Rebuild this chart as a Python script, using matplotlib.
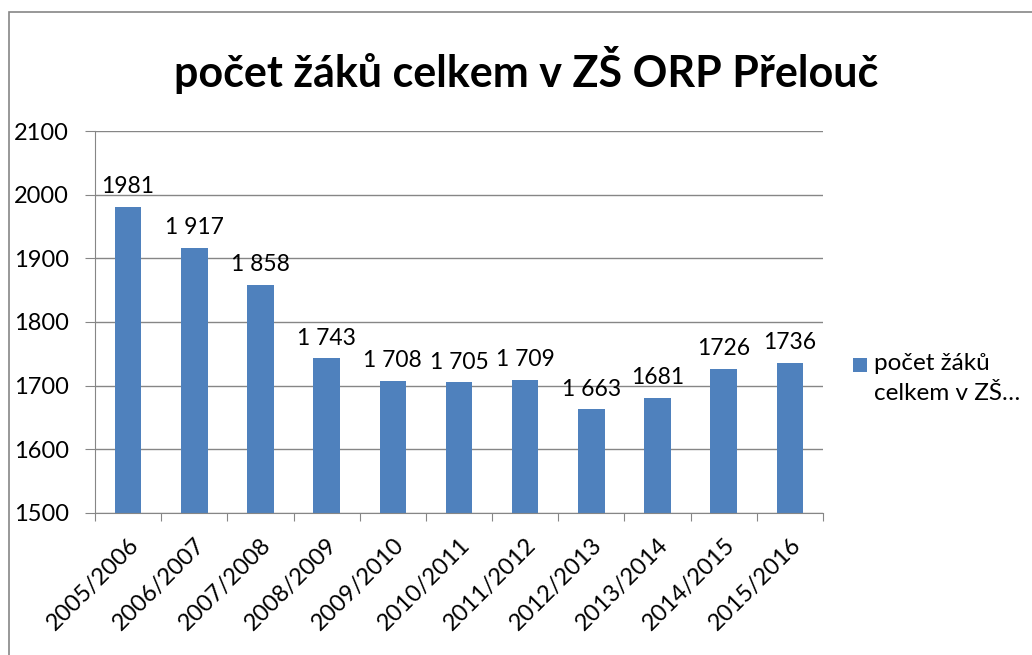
import matplotlib.pyplot as plt
from matplotlib.patches import Rectangle

plt.rcParams["font.family"] = ["Lato", "DejaVu Sans"]

years = ["2005/2006", "2006/2007", "2007/2008", "2008/2009", "2009/2010", "2010/2011",
         "2011/2012", "2012/2013", "2013/2014", "2014/2015", "2015/2016"]
pupils = [1981, 1917, 1858, 1743, 1708, 1705, 1709, 1663, 1681, 1726, 1736]
# some of the labels are written with a thousands separator, some are not
grouped = [False, True, True, True, True, True, True, True, False, False, False]

title = "počet žáků celkem v ZŠ ORP Přelouč"
series_lines = ["počet žáků", "celkem v ZŠ…"]

blue = "#4F81BD"
grey = "#868686"
W, H = 1032, 655

fig = plt.figure(figsize=(W / 100, H / 100), dpi=100)
ax = fig.add_axes([95 / W, 1 - 513 / H, 728 / W, 382 / H])

x = range(len(years))
ax.bar(x, pupils, width=0.4, color=blue, zorder=2)

for i, v in enumerate(pupils):
    txt = f"{v:,}".replace(",", " ") if grouped[i] else str(v)
    ax.annotate(txt, (i, v), xytext=(0, 7), textcoords="offset points",
                ha="center", va="bottom", fontsize=16.5)

ax.set_xlim(-0.5, len(years) - 0.5)
ax.set_ylim(1500, 2100)
ax.set_yticks(range(1500, 2101, 100))
ax.tick_params(axis="y", labelsize=17, length=7, color=grey, pad=12)

# category ticks sit between the bars, labels under the bars
ax.set_xticks([i - 0.5 for i in range(len(years) + 1)])
ax.set_xticklabels([])
ax.set_xticks(list(x), minor=True)
ax.set_xticklabels(years, minor=True, rotation=45, ha="right",
                   rotation_mode="anchor", fontsize=17)
ax.tick_params(axis="x", which="major", length=6, color=grey)
ax.tick_params(axis="x", which="minor", length=0, pad=15)

ax.grid(axis="y", color=grey, linewidth=1, zorder=0)
ax.set_axisbelow(True)
for side in ["top", "right"]:
    ax.spines[side].set_visible(False)
for side in ["left", "bottom"]:
    ax.spines[side].set_color(grey)

fig.text(526 / W, 1 - 70 / H, title, ha="center", va="center",
         fontsize=31, fontweight="bold")

# legend: swatch next to the first line, name wrapped onto two lines
fig.patches.append(Rectangle((853 / W, 1 - 372 / H), 14 / W, 14 / H,
                             transform=fig.transFigure, facecolor=blue,
                             edgecolor="none"))
for k, line in enumerate(series_lines):
    fig.text(874 / W, 1 - (363 + 30 * k) / H, line, ha="left", va="center",
             fontsize=17.5)

# chart area border
fig.patches.append(Rectangle((8.5 / W, -0.1), 1.2, 1.1 - 12.5 / H,
                             transform=fig.transFigure, fill=False,
                             edgecolor=grey, linewidth=1.2))

fig.savefig("out.png", dpi=100)
